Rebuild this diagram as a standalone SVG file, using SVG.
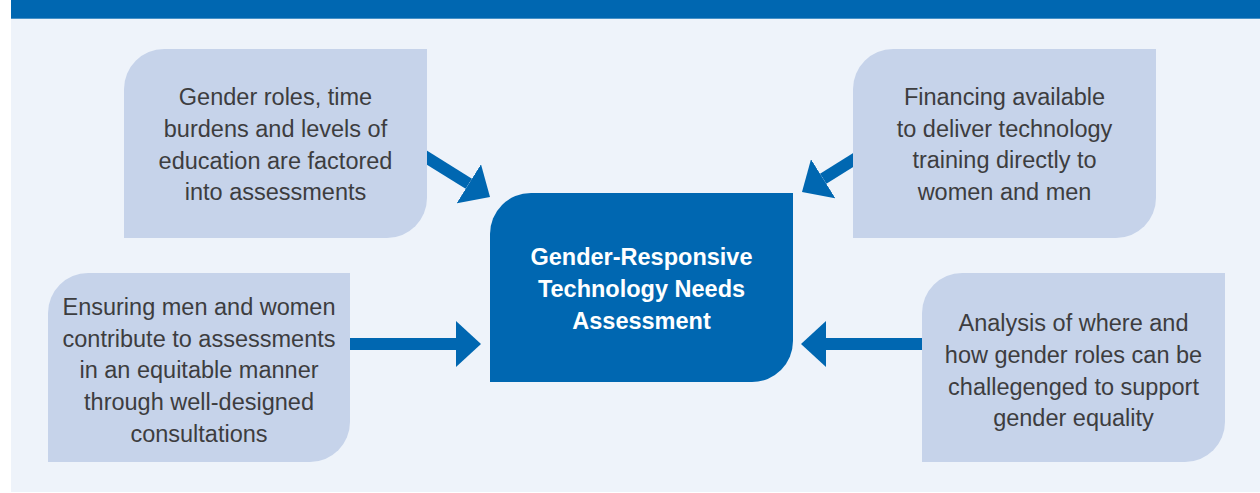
<svg xmlns="http://www.w3.org/2000/svg" width="1260" height="493" viewBox="0 0 1260 493">
  <style>
    .box { fill: #C6D3EA; }
    .core { fill: #0067B1; }
    .t { font-family: "Liberation Sans", Arial, sans-serif; font-size: 23.5px; fill: #3D3D3F; text-anchor: middle; }
    .tc { font-family: "Liberation Sans", Arial, sans-serif; font-size: 23.5px; font-weight: bold; fill: #FFFFFF; text-anchor: middle; }
    .conn { stroke: #0067B1; stroke-width: 12; fill: none; }
  </style>
  <defs>
    <marker id="head" markerUnits="userSpaceOnUse" markerWidth="26" markerHeight="46" refX="0" refY="23" orient="auto" viewBox="0 0 26 46">
      <path d="M0,0 L25,23 L0,46 Z" fill="#0067B1"/>
    </marker>
  </defs>
  <rect x="0" y="0" width="1260" height="493" fill="#FFFFFF"/>
  <rect x="11" y="0" width="1249" height="492" fill="#EEF3FA"/>
  <rect x="11" y="0" width="1249" height="18.7" fill="#0067B1"/>

  <g id="connectors">
    <line class="conn" x1="420" y1="153.3" x2="468.8" y2="183.75" marker-end="url(#head)"/>
    <line class="conn" x1="860" y1="155.75" x2="823.2" y2="178.75" marker-end="url(#head)"/>
    <line class="conn" x1="345" y1="344" x2="456" y2="344" marker-end="url(#head)"/>
    <line class="conn" x1="927" y1="344" x2="826" y2="344" marker-end="url(#head)"/>
  </g>

  <g id="node-gender-roles">
    <path class="box" d="M124,89 A40,40 0 0 1 164,49 H427 V198 A40,40 0 0 1 387,238 H124 Z"/>
    <text class="t" x="275.5" y="105">Gender roles, time</text>
    <text class="t" x="275.5" y="137">burdens and levels of</text>
    <text class="t" x="275.5" y="169">education are factored</text>
    <text class="t" x="275.5" y="200">into assessments</text>
  </g>

  <g id="node-financing">
    <path class="box" d="M853,89 A40,40 0 0 1 893,49 H1156 V198 A40,40 0 0 1 1116,238 H853 Z"/>
    <text class="t" x="1004.5" y="105">Financing available</text>
    <text class="t" x="1004.5" y="137">to deliver technology</text>
    <text class="t" x="1004.5" y="168">training directly to</text>
    <text class="t" x="1004.5" y="200">women and men</text>
  </g>

  <g id="node-ensuring">
    <path class="box" d="M48,313 A40,40 0 0 1 88,273 H350 V422 A40,40 0 0 1 310,462 H48 Z"/>
    <text class="t" x="199" y="315">Ensuring men and women</text>
    <text class="t" x="199" y="347">contribute to assessments</text>
    <text class="t" x="199" y="378">in an equitable manner</text>
    <text class="t" x="199" y="410">through well-designed</text>
    <text class="t" x="199" y="442">consultations</text>
  </g>

  <g id="node-analysis">
    <path class="box" d="M922,313 A40,40 0 0 1 962,273 H1225 V422 A40,40 0 0 1 1185,462 H922 Z"/>
    <text class="t" x="1073.5" y="331">Analysis of where and</text>
    <text class="t" x="1073.5" y="363">how gender roles can be</text>
    <text class="t" x="1073.5" y="395">challegenged to support</text>
    <text class="t" x="1073.5" y="426">gender equality</text>
  </g>

  <g id="node-center">
    <path class="core" d="M490,234 A41,41 0 0 1 531,193 H793 V341 A41,41 0 0 1 752,382 H490 Z"/>
    <text class="tc" x="641.5" y="265">Gender-Responsive</text>
    <text class="tc" x="641.5" y="297">Technology Needs</text>
    <text class="tc" x="641.5" y="329">Assessment</text>
  </g>
</svg>
